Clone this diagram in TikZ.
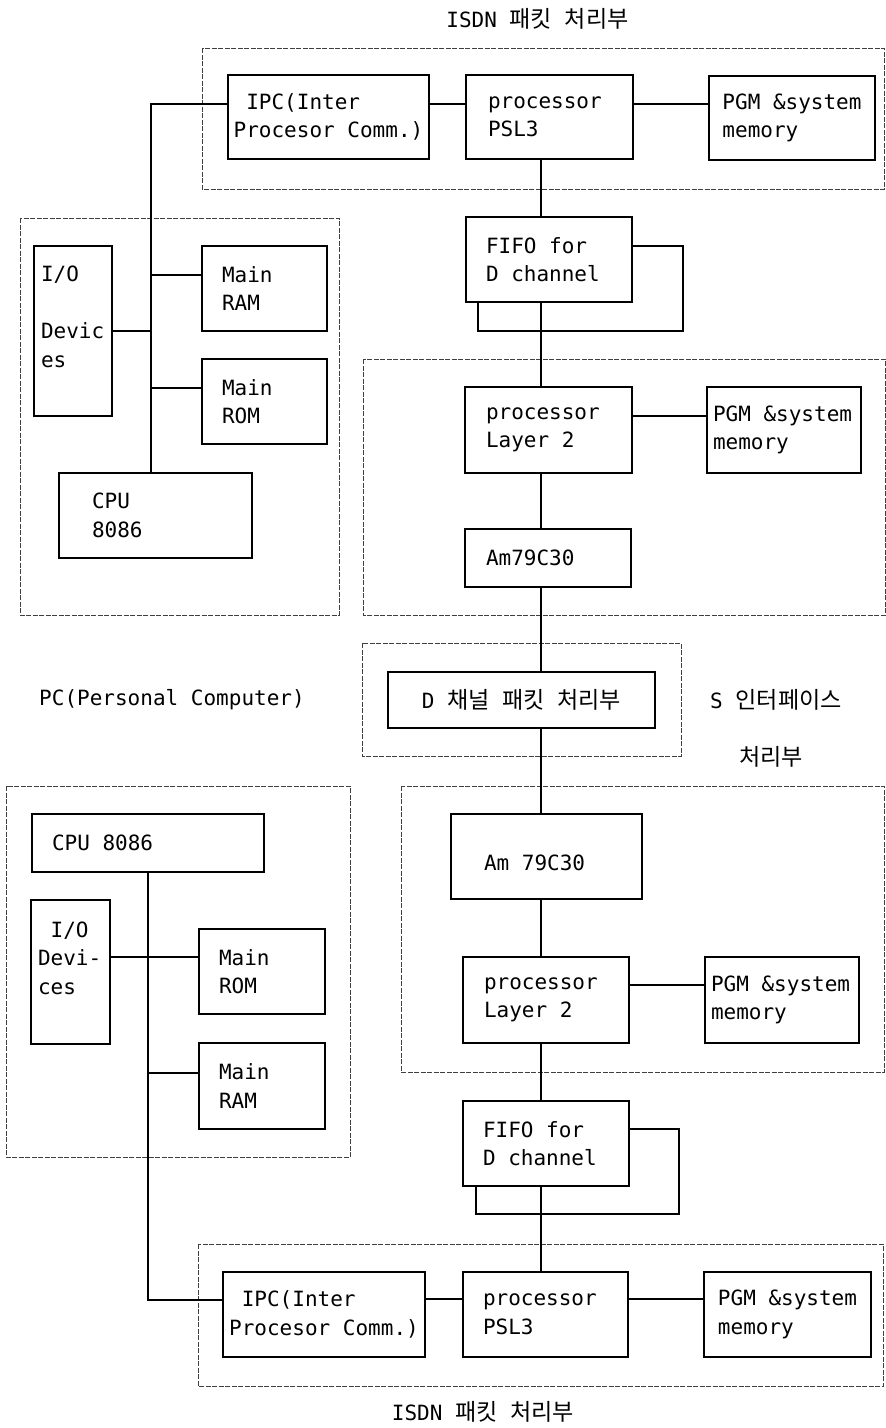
\documentclass[tikz,border=0pt]{standalone}
\usepackage{fontspec}
\setmonofont{DejaVu Sans Mono}
\newfontfamily\kr{Noto Sans CJK KR}[Scale=1.1]
\usepackage{tikz}
\usetikzlibrary{positioning}

\begin{document}
\begin{tikzpicture}[x=1pt, y=-1pt,
        blk/.style={draw, line width=1.5pt, align=flush left, inner sep=0pt, font=\ttfamily\fontsize{21}{28.5}\selectfont},
        padblk/.style 2 args={blk, inner xsep=#1, text width=#2},
        wire/.style={line width=1.3pt},
        grp/.style={line width=0.7pt, black!75, dash pattern=on 5pt off 1.5pt},
        lbl/.style={inner sep=0pt, font=\ttfamily\fontsize{21}{28.5}\selectfont}
    ]
        \useasboundingbox (0,0) rectangle (886,1428);

        % Group frames
        \draw[grp] (202,48) rectangle (884,189);
        \draw[grp] (20,218) rectangle (339,615);
        \draw[grp] (363,359) rectangle (885,615);
        \draw[grp] (362,643) rectangle (681,756);
        \draw[grp] (6,786) rectangle (350,1157);
        \draw[grp] (401,786) rectangle (884,1072);
        \draw[grp] (198,1244) rectangle (883,1386);

        % Upper ISDN packet block
        \node[blk, minimum width=201, minimum height=84] (ipcA) at (328.5,117) {\phantom{x}IPC(Inter\\Procesor Comm.)};
        \node[padblk={22}{123}, minimum height=84] (pslA) at (549.5,117) {processor\\PSL3};
        \node[blk, minimum width=166, minimum height=84] (pgmA) at (792,118) {PGM \&system\\memory};

        % Upper PC
        \node[padblk={7}{64}, minimum height=170] (ioA) at (73,331) {I/O\\\mbox{}\\Devic\\es\\\mbox{}};
        \node[padblk={20}{85}, minimum height=85] (ramA) at (264.5,288.5) {Main\\RAM};
        \node[padblk={20}{85}, minimum height=85] (romA) at (264.5,401.5) {Main\\ROM};
        \node[padblk={33}{127}, minimum height=85] (cpuA) at (155.5,515.5) {CPU\\8086};

        % Upper S interface part
        \node[padblk={20}{126}, minimum height=85] (fifoA) at (549,259.5) {FIFO for\\D channel};
        \node[padblk={21}{125}, minimum height=86] (layA) at (548.5,430) {processor\\Layer 2};
        \node[padblk={6}{142}, minimum height=86] (pgmB) at (784,430) {PGM \&system\\memory};
        \node[padblk={21}{124}, minimum height=58] (amA) at (548,558) {Am79C30};

        % D channel packet part
        \node[blk, minimum width=267, minimum height=56] (dch) at (521.5,700) {D {\kr 채널} {\kr 패킷} {\kr 처리부}};

        % Lower S interface part
        \node[padblk={33}{125}, minimum height=85] (amB) at (546.5,856.5) {\mbox{}\\Am 79C30};
        \node[padblk={21}{124}, minimum height=86] (layB) at (546,1000) {processor\\Layer 2};
        \node[padblk={6}{142}, minimum height=86] (pgmC) at (782,1000) {PGM \&system\\memory};
        \node[padblk={20}{126}, minimum height=85] (fifoB) at (546,1143.5) {FIFO for\\D channel};

        % Lower PC
        \node[padblk={20}{192}, minimum height=58] (cpuB) at (148,843) {CPU 8086};
        \node[padblk={7}{65}, minimum height=144] (ioB) at (70.5,972) {\phantom{x}I/O\\Devi-\\ces\\\mbox{}};
        \node[padblk={20}{86}, minimum height=85] (romB) at (262,971.5) {Main\\ROM};
        \node[padblk={20}{86}, minimum height=86] (ramB) at (262,1086) {Main\\RAM};

        % Lower ISDN packet block
        \node[blk, minimum width=202, minimum height=85] (ipcB) at (324,1314.5) {\phantom{x}IPC(Inter\\Procesor Comm.)};
        \node[padblk={20}{125}, minimum height=85] (pslB) at (545.5,1314.5) {processor\\PSL3};
        \node[blk, minimum width=167, minimum height=85] (pgmD) at (787.5,1314.5) {PGM \&system\\memory};

        % Labels
        \node[lbl] (titleA) at (537.5,19) {ISDN {\kr 패킷} {\kr 처리부}};
        \node[lbl] (titleB) at (483,1412) {ISDN {\kr 패킷} {\kr 처리부}};
        \node[lbl] (pcname) at (172,700) {PC(Personal Computer)};
        \node[lbl] (sifA) at (776,700) {S {\kr 인터페이스}};
        \node[lbl] (sifB) at (771,757) {{\kr 처리부}};

        % Main spine
        \coordinate (spine) at (541,0);
        \draw[wire] (pslA.south -| spine) -- (fifoA.north -| spine);
        \draw[wire] (fifoA.south -| spine) -- (layA.north -| spine);
        \draw[wire] (layA.south -| spine) -- (amA.north -| spine);
        \draw[wire] (amA.south -| spine) -- (dch.north -| spine);
        \draw[wire] (dch.south -| spine) -- (amB.north -| spine);
        \draw[wire] (amB.south -| spine) -- (layB.north -| spine);
        \draw[wire] (layB.south -| spine) -- (fifoB.north -| spine);
        \draw[wire] (fifoB.south -| spine) -- (pslB.north -| spine);

        % FIFO loops
        \coordinate (loopA) at (683,331);
        \coordinate (loopB) at (679,1214);
        \draw[wire] ([yshift=13.5pt]fifoA.east) -| (loopA) -| ([xshift=-71pt]fifoA.south);
        \draw[wire] ([yshift=14.5pt]fifoB.east) -| (loopB) -| ([xshift=-70pt]fifoB.south);

        % Side links
        \draw[wire] ([yshift=13pt]ipcA.east) -- ([yshift=13pt]pslA.west);
        \draw[wire] ([yshift=13pt]pslA.east) -- ([yshift=13pt]pslA.east -| pgmA.west);
        \draw[wire] ([yshift=14pt]layA.east) -- ([yshift=14pt]layA.east -| pgmB.west);
        \draw[wire] ([yshift=15pt]layB.east) -- ([yshift=15pt]layB.east -| pgmC.west);
        \draw[wire] ([yshift=15.5pt]ipcB.east) -- ([yshift=15.5pt]ipcB.east -| pslB.west);
        \draw[wire] ([yshift=15.5pt]pslB.east) -- ([yshift=15.5pt]pslB.east -| pgmD.west);

        % Upper PC bus
        \coordinate (busA) at (151,104);
        \draw[wire] ([yshift=13pt]ipcA.west) -- (busA) -- (cpuA.north -| busA);
        \draw[wire] ([yshift=13.5pt]ramA.west) -- ([yshift=13.5pt]ramA.west -| busA);
        \draw[wire] (ioA.east) -- (ioA.east -| busA);
        \draw[wire] ([yshift=13.5pt]romA.west) -- ([yshift=13.5pt]romA.west -| busA);

        % Lower PC bus
        \coordinate (busB) at (148,1300);
        \draw[wire] (cpuB.south -| busB) -- (busB) -- ([yshift=14.5pt]ipcB.west);
        \draw[wire] ([yshift=15pt]ioB.east) -- ([yshift=15pt]ioB.east -| romB.west);
        \draw[wire] ([yshift=13pt]ramB.west) -- ([yshift=13pt]ramB.west -| busB);

    \end{tikzpicture}
\end{document}
